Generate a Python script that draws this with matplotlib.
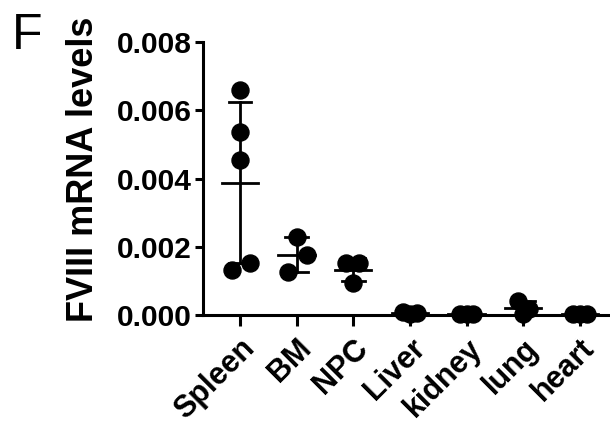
import matplotlib
matplotlib.use('Agg')
import matplotlib.pyplot as plt
import numpy as np

plt.rcParams['font.family'] = ['Liberation Sans', 'DejaVu Sans']

# tissue groups and individual FVIII mRNA values
tissues = ['Spleen', 'BM', 'NPC', 'Liver', 'kidney', 'lung', 'heart']
values = [
    [0.0066, 0.00537, 0.00455, 0.00132, 0.00152],
    [0.00229, 0.00176, 0.00126],
    [0.00152, 0.00152, 0.00094],
    [0.00008, 0.00006, 0.00003],
    [0.00002, 0.00002, 0.00002],
    [0.00042, 0.00018, 0.00002],
    [0.00002, 0.00002, 0.00002],
]
# horizontal scatter of the dots (in category units)
jitter = [
    [0.0, 0.0, 0.0, -0.14, 0.18],
    [0.0, 0.18, -0.16],
    [-0.12, 0.1, 0.0],
    [-0.12, 0.12, 0.0],
    [-0.12, 0.12, 0.0],
    [-0.1, 0.1, 0.0],
    [-0.12, 0.12, 0.0],
]
yticks = [0.0, 0.002, 0.004, 0.006, 0.008]

fig = plt.figure(figsize=(6.1, 4.24), dpi=100)
ax = fig.add_axes([0.333, 0.257, 0.664, 0.644])

for i, (vals, jit) in enumerate(zip(values, jitter)):
    vals = np.array(vals)
    m = vals.mean()
    sd = vals.std(ddof=1)
    ax.plot([i, i], [m - sd, m + sd], color='black', lw=2, zorder=2, clip_on=False)
    ax.plot([i - 0.2, i + 0.2], [m - sd, m - sd], color='black', lw=2, zorder=2, clip_on=False)
    ax.plot([i - 0.2, i + 0.2], [m + sd, m + sd], color='black', lw=2, zorder=2, clip_on=False)
    ax.plot([i - 0.32, i + 0.32], [m, m], color='black', lw=2, zorder=2, clip_on=False)
    ax.scatter(i + np.array(jit), vals, s=150, color='black', zorder=3, clip_on=False)

ax.set_xlim(-0.65, 6.5)
ax.set_ylim(0, 0.008)
ax.set_yticks(yticks)
ax.set_yticklabels(['%.3f' % t for t in yticks], fontsize=21.5, fontweight='bold')
ax.set_xticks(range(len(tissues)))
ax.set_xticklabels(tissues, rotation=45, ha='right', rotation_mode='anchor',
                   fontsize=22, fontweight='bold')
ax.set_ylabel('FVIII mRNA levels', fontsize=26, fontweight='bold')
ax.yaxis.set_label_coords(-0.252, 0.535)

for s in ['top', 'right']:
    ax.spines[s].set_visible(False)
for s in ['left', 'bottom']:
    ax.spines[s].set_linewidth(2.2)
ax.tick_params(axis='y', width=2.2, length=6, pad=2)
ax.tick_params(axis='x', width=2.2, length=8, pad=5)

fig.text(0.02, 0.885, 'F', fontsize=36)

plt.savefig('out.png', dpi=100)
